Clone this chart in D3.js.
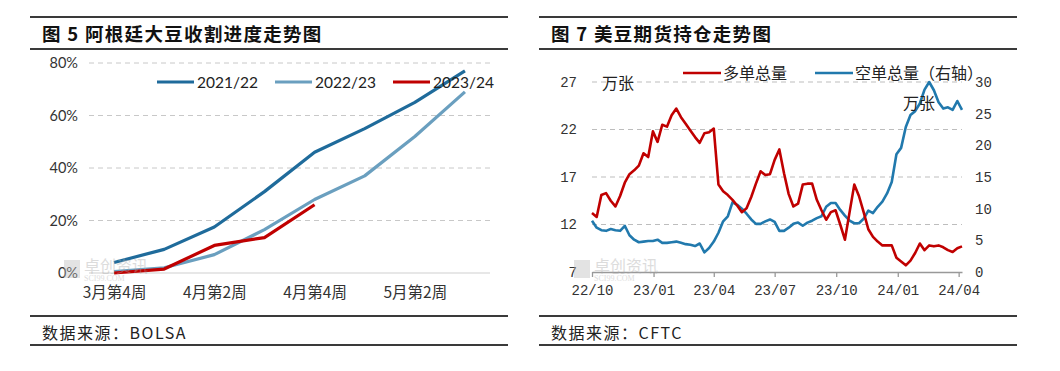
<!DOCTYPE html>
<html><head><meta charset="utf-8">
<script src="https://cdn.jsdelivr.net/npm/d3@7"></script>
<style>body{margin:0;background:#fff} svg{display:block}</style>
</head><body>
<svg id="c" width="1060" height="371"></svg>
<script>
// ---------- Left chart data ----------
const weeks = ["3月第4周","4月第1周","4月第2周","4月第3周","4月第4周","5月第1周","5月第2周","5月第3周"];
const weekLabels = ["3月第4周","4月第2周","4月第4周","5月第2周"];
const pctTicks = [0,20,40,60,80];
const s2122 = [4,9,17.5,31,46,55,65,77];
const s2223 = [0.5,2,7,16.5,28,37,52,69];
const s2324 = [0,1.5,10.5,13.5,26];
const seasonNames = ["2021/22","2022/23","2023/24"];

// ---------- Right chart data ----------
const startDate = "2022-10-04";
const longTotal = [13.2,12.8,15.1,15.3,14.5,13.9,15.0,16.4,17.3,17.7,
  18.2,19.5,19.1,21.8,20.7,22.5,22.3,23.5,24.2,23.3,
  22.6,21.9,21.2,20.6,21.6,21.7,22.1,16.2,15.5,15.1,
  14.6,14.0,13.3,13.7,14.9,16.3,17.6,17.2,17.3,18.8,
  19.9,17.4,15.2,13.9,14.2,16.2,16.3,16.3,14.6,13.5,
  12.5,13.3,13.5,12.0,10.4,13.3,16.2,15.0,13.3,11.5,
  10.7,10.2,9.8,9.8,9.8,8.5,8.1,7.7,8.2,9.0,
  10.0,9.3,9.8,9.7,9.8,9.6,9.3,9.1,9.5,9.7];
const shortTotal = [8.1,7.0,6.6,6.5,6.8,6.6,6.5,7.3,5.8,5.1,
  4.7,4.8,4.9,4.9,5.1,4.6,4.6,4.7,4.8,4.6,
  4.4,4.3,4.1,4.5,3.1,3.8,4.8,6.2,8.0,8.8,
  11.0,10.6,10.0,9.2,8.3,7.6,7.6,8.0,8.3,7.9,
  6.5,6.5,7.0,7.6,7.8,7.3,7.8,8.1,8.5,8.8,
  10.3,10.9,10.9,9.8,8.9,8.1,7.7,7.7,8.4,9.7,
  9.3,10.3,11.1,12.4,14.2,18.6,19.6,22.9,24.8,25.4,
  26.6,28.8,30.0,28.7,26.8,25.8,26.0,25.6,27.0,25.6];
const leftTicks = [7,12,17,22,27];
const rightTicks = [0,5,10,15,20,25,30];
const dateTicks = ["2022-10-04","2023-01-04","2023-04-04","2023-07-04","2023-10-04","2024-01-04","2024-04-04"];
const dateLabels = ["22/10","23/01","23/04","23/07","23/10","24/01","24/04"];
const seriesNames = ["多单总量","空单总量（右轴）"];

const C_DARK = "#1f6b9b", C_LIGHT = "#6a9fbf", C_RED = "#c00000", C_BLUE = "#2179ad";
const CJK = "'Noto Sans CJK SC', sans-serif";
const svg = d3.select("#c");

// ---------- frames ----------
function frame(x0, x1, title, source) {
  const g = svg.append("g");
  [17, 49, 316, 345].forEach(y => g.append("line").attr("x1", x0).attr("x2", x1)
    .attr("y1", y).attr("y2", y).attr("stroke", "#3a3a3a").attr("stroke-width", 2));
  g.append("text").attr("x", x0 + 12).attr("y", 41).text(title)
    .attr("font-family", CJK).attr("font-weight", "bold").attr("font-size", 18.5)
    .attr("letter-spacing", 1.3).attr("fill", "#111");
  g.append("text").attr("x", x0 + 12).attr("y", 339).text(source)
    .attr("font-family", "'Noto Sans CJK SC', monospace").attr("font-size", 16).attr("letter-spacing", 1.5).attr("fill", "#222");
}
frame(30, 508, "图 5 阿根廷大豆收割进度走势图", "数据来源：BOLSA");
frame(539, 1017, "图 7 美豆期货持仓走势图", "数据来源：CFTC");

function watermark(x, y) {
  const g = svg.append("g").attr("opacity", 0.4);
  g.append("rect").attr("x", x).attr("y", y - 12).attr("width", 16).attr("height", 18).attr("fill", "#bbb");
  g.append("text").attr("x", x + 20).attr("y", y).text("卓创资讯")
    .attr("font-family", CJK).attr("font-size", 16).attr("fill", "#aaa");
  g.append("text").attr("x", x + 20).attr("y", y + 9).text("SCI99.COM")
    .attr("font-family", "'Liberation Serif', serif").attr("font-size", 8).attr("fill", "#aaa");
}

// ---------- Left chart ----------
{
  const x = d3.scalePoint().domain(weeks).range([89, 490]).padding(0.5);
  const y = d3.scaleLinear().domain([0, 80]).range([273, 63]);
  const g = svg.append("g");
  watermark(64, 272);
  pctTicks.filter(t => t > 0).forEach(t => g.append("line").attr("x1", 89).attr("x2", 490)
    .attr("y1", y(t)).attr("y2", y(t)).attr("stroke", "#c8c8c8").attr("stroke-dasharray", "5,4"));
  g.append("line").attr("x1", 89).attr("x2", 490).attr("y1", y(0)).attr("y2", y(0)).attr("stroke", "#d0d0d0").attr("stroke-width", 1.2);
  const ya = g.append("g").attr("transform", "translate(77,0)")
    .call(d3.axisLeft(y).tickValues(pctTicks).tickFormat(d => d + "%").tickSize(0));
  ya.select(".domain").remove();
  ya.selectAll("text").attr("font-family", "Lato, 'Open Sans', sans-serif").attr("font-size", 14.5).attr("fill", "#333").attr("dx", 4);
  const xa = g.append("g").attr("transform", "translate(0,273)")
    .call(d3.axisBottom(x).tickValues(weekLabels).tickSize(0));
  xa.select(".domain").remove();
  xa.selectAll("text").attr("font-family", CJK).attr("font-size", 15.5).attr("fill", "#333").attr("dy", "1.45em");
  const line = d3.line().x((d, i) => x(weeks[i])).y(d => y(d)).curve(d3.curveLinear);
  [[s2223, C_LIGHT], [s2122, C_DARK], [s2324, C_RED]].forEach(([s, c]) =>
    g.append("path").attr("d", line(s)).attr("fill", "none").attr("stroke", c).attr("stroke-width", 3.2).attr("stroke-linejoin", "round"));
  const lg = [[157, C_DARK], [275, C_LIGHT], [393, C_RED]];
  lg.forEach(([lx, c], i) => {
    g.append("line").attr("x1", lx).attr("x2", lx + 37).attr("y1", 82).attr("y2", 82).attr("stroke", c).attr("stroke-width", 3.2);
    g.append("text").attr("x", lx + 40).attr("y", 87.5).text(seasonNames[i])
      .attr("font-family", "Lato, 'Open Sans', sans-serif").attr("font-size", 15.5).attr("fill", "#222");
  });
}

// ---------- Right chart ----------
{
  const t0 = new Date(startDate + "T00:00:00");
  const dates = longTotal.map((d, i) => d3.timeDay.offset(t0, 7 * i));
  const x = d3.scaleTime().domain([dates[0], dates[dates.length - 1]]).range([592, 962]);
  const yL = d3.scaleLinear().domain([7, 27]).range([272, 82]);
  const yR = d3.scaleLinear().domain([0, 30]).range([272, 82]);
  const g = svg.append("g");
  watermark(574, 272);
  leftTicks.filter(t => t > 7).forEach(t => g.append("line").attr("x1", 592).attr("x2", 962)
    .attr("y1", yL(t)).attr("y2", yL(t)).attr("stroke", "#bdbdbd").attr("stroke-dasharray", "5,4"));
  const mono = "'Liberation Mono', monospace";
  const la = g.append("g").attr("transform", "translate(580,0)")
    .call(d3.axisLeft(yL).tickValues(leftTicks).tickSize(0));
  la.select(".domain").remove();
  la.selectAll("text").attr("font-family", mono).attr("font-size", 14).attr("fill", "#333");
  const ra = g.append("g").attr("transform", "translate(972,0)")
    .call(d3.axisRight(yR).tickValues(rightTicks).tickSize(0));
  ra.select(".domain").remove();
  ra.selectAll("text").attr("font-family", mono).attr("font-size", 14).attr("fill", "#333");
  const tickDates = dateTicks.map(s => new Date(s + "T00:00:00"));
  const xa = g.append("g").attr("transform", "translate(0,272)")
    .call(d3.axisBottom(x).tickValues(tickDates).tickFormat((d, i) => dateLabels[i]).tickSize(5).tickSizeOuter(0));
  xa.select(".domain").attr("stroke", "#999").attr("stroke-width", 1.3);
  xa.selectAll(".tick line").attr("stroke", "#999").attr("stroke-width", 1.3);
  xa.selectAll("text").attr("font-family", mono).attr("font-size", 14).attr("fill", "#333").attr("dy", "1.05em");
  const lineL = d3.line().x((d, i) => x(dates[i])).y(d => yL(d));
  const lineR = d3.line().x((d, i) => x(dates[i])).y(d => yR(d));
  g.append("path").attr("d", lineR(shortTotal)).attr("fill", "none").attr("stroke", C_BLUE).attr("stroke-width", 2.6).attr("stroke-linejoin", "round");
  g.append("path").attr("d", lineL(longTotal)).attr("fill", "none").attr("stroke", C_RED).attr("stroke-width", 2.6).attr("stroke-linejoin", "round");
  g.append("text").attr("x", 602).attr("y", 89).text("万张").attr("font-family", CJK).attr("font-size", 16).attr("fill", "#222");
  g.append("text").attr("x", 903).attr("y", 109).text("万张").attr("font-family", CJK).attr("font-size", 16).attr("fill", "#222");
  [[683, C_RED], [815, C_BLUE]].forEach(([lx, c], i) => {
    g.append("line").attr("x1", lx).attr("x2", lx + 38).attr("y1", 73).attr("y2", 73).attr("stroke", c).attr("stroke-width", 2.6);
    g.append("text").attr("x", lx + 40).attr("y", 79).text(seriesNames[i]).attr("font-family", CJK).attr("font-size", 16).attr("fill", "#222");
  });
}
</script>
</body></html>
